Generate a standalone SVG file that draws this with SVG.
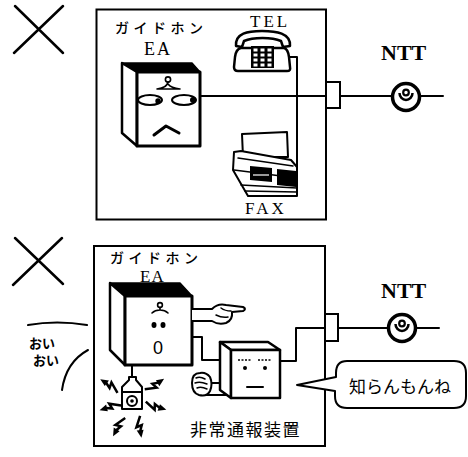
<svg xmlns="http://www.w3.org/2000/svg" xmlns:xlink="http://www.w3.org/1999/xlink" width="468" height="457" viewBox="0 0 468 457">
  <style>
    .ln { fill: none; stroke: #000; stroke-width: 2; stroke-linecap: round; stroke-linejoin: round; }
    .wf { fill: #fff; stroke: #000; stroke-width: 2.5; stroke-linejoin: round; }
    .blk { fill: #000; stroke: #000; stroke-width: 1.5; stroke-linejoin: round; }
    .frame { fill: none; stroke: #000; stroke-width: 2; }
    .serif { font-family: "Liberation Serif", "DejaVu Serif", serif; fill: #000; }
    .jp { font-family: "Noto Sans CJK JP", "Noto Sans", sans-serif; fill: #000; }
    .kana { font-family: "Noto Sans CJK JP", sans-serif; font-size: 14px; letter-spacing: 4.5px; font-weight: 500; }
    .ntt { font-family: "Liberation Serif", serif; font-weight: bold; font-size: 22px; }
  </style>
  <defs>
    <!-- small lightning bolt, drawn along +y with its head at the bottom -->
    <g id="bolt">
      <path d="M1.5,-8 L-3,0.5 L1.5,-0.5 L-0.5,4" fill="none" stroke="#000" stroke-width="2" stroke-linejoin="miter"/>
      <path d="M-3.2,3 L-0.5,9.5 L2.3,3.5 Z" fill="#000"/>
    </g>
    <!-- line socket symbol -->
    <g id="socket">
      <circle cx="0" cy="0" r="13.5" fill="#fff" stroke="#000" stroke-width="3.5"/>
      <path d="M-6.5,-4 A6.5,7 0 0 0 6.5,-4" fill="none" stroke="#000" stroke-width="2.5"/>
      <circle cx="0" cy="-4.5" r="2.8" fill="#fff" stroke="#000" stroke-width="2.2"/>
    </g>
  </defs>

  <!-- ===== upper scene ===== -->
  <g id="top-cross" class="ln" style="stroke-width:2.5">
    <path d="M15,6 L63,53 M63,6 L14,53"/>
  </g>
  <g id="top-frame">
    <rect class="frame" x="96.5" y="9.5" width="229.5" height="210"/>
  </g>

  <g id="top-connectors" class="ln">
    <path d="M200,96 H326"/>
    <path d="M290,57 H297 V176"/>
    <path d="M340,96 H392 M420,96 H443"/>
  </g>

  <g id="top-guidephone">
    <text class="jp kana" x="115" y="33">ガイドホン</text>
    <text class="serif" x="144" y="55" font-size="18" letter-spacing="2">EA</text>
    <polygon class="blk" points="122,63 192,63 200,72 137,72"/>
    <polygon class="wf" points="122,63 137,72 137,146 122,133"/>
    <rect class="wf" x="137" y="72" width="63" height="74" style="stroke-width:3"/>
    <circle cx="168" cy="79.5" r="2.6" fill="none" stroke="#000" stroke-width="1.6"/>
    <path class="ln" style="stroke-width:1.6" d="M168,82 Q167,88 157,89 M157,89 H180 M168,84 Q171,88 180,89"/>
    <ellipse cx="150" cy="100" rx="12" ry="5" fill="#fff" stroke="#000" stroke-width="2"/>
    <ellipse cx="184" cy="100" rx="12" ry="5" fill="#fff" stroke="#000" stroke-width="2"/>
    <circle cx="158" cy="101" r="2.7"/>
    <circle cx="193" cy="100" r="3"/>
    <path class="ln" style="stroke-width:3" d="M154,135 L166,126 L179,133"/>
  </g>

  <g id="top-tel">
    <text class="serif" x="250" y="27" font-size="17" letter-spacing="3">TEL</text>
    <path class="wf" d="M236,46 C235,33 248,31 262,31 C276,31 291,33 290,46 L283,47 L281,41 C272,37 253,37 244,41 L242,47 Z"/>
    <path class="wf" d="M241,48 Q236,49 235,57 L234,67 Q234,71 238,71 L287,71 Q291,71 290,67 L289,57 Q288,49 284,48 Z"/>
    <rect x="251" y="46" width="23" height="22" fill="#000"/>
    <g fill="#fff">
      <rect x="253.5" y="48.5" width="4" height="3"/><rect x="260.5" y="48.5" width="4" height="3"/><rect x="267.5" y="48.5" width="4" height="3"/>
      <rect x="253.5" y="53.5" width="4" height="3"/><rect x="260.5" y="53.5" width="4" height="3"/><rect x="267.5" y="53.5" width="4" height="3"/>
      <rect x="253.5" y="58.5" width="4" height="3"/><rect x="260.5" y="58.5" width="4" height="3"/><rect x="267.5" y="58.5" width="4" height="3"/>
      <rect x="253.5" y="63.5" width="4" height="3"/><rect x="260.5" y="63.5" width="4" height="3"/><rect x="267.5" y="63.5" width="4" height="3"/>
    </g>
  </g>

  <g id="top-fax">
    <polygon class="wf" style="stroke-width:2" points="242,134 287,132 288,157 243,157"/>
    <path class="wf" style="stroke-width:2" d="M234,152 L241,151 L291,160 L297,167 L297,196 L248,196 L233,170 Z"/>
    <path class="ln" style="stroke-width:1.5" d="M238,158 L293,166 M234,170 L297,178 M241,185 L297,188 M245,191 L297,192"/>
    <polygon points="250,166 272,168 272,182 250,180" fill="#000"/>
    <path d="M253,175 H269" stroke="#fff" stroke-width="1.2"/>
    <polygon points="277,169 296,171 296,187 277,185" fill="#000"/>
    <text class="serif" x="245" y="214" font-size="17" letter-spacing="3">FAX</text>
  </g>

  <g id="top-jack">
    <rect x="326" y="82" width="14" height="26" fill="#fff" stroke="#000" stroke-width="2"/>
  </g>
  <g id="top-ntt">
    <text class="serif ntt" x="381" y="60">NTT</text>
    <use xlink:href="#socket" x="406" y="97"/>
  </g>

  <!-- ===== lower scene ===== -->
  <g id="bottom-cross" class="ln" style="stroke-width:2.5">
    <path d="M15,238 L63,284 M62,238 L13,285"/>
  </g>
  <g id="bottom-frame">
    <rect class="frame" x="94" y="246" width="231" height="200"/>
  </g>

  <g id="bottom-connectors" class="ln">
    <path d="M192,337 H202 V360 H222"/>
    <path d="M280,361 H296 V328 H325"/>
    <path d="M338,328 H388 M416,328 H439"/>
    <path d="M132,365 V378"/>
  </g>

  <g id="bottom-guidephone">
    <text class="jp kana" x="110" y="263">ガイドホン</text>
    <text class="serif" x="140" y="282" font-size="17" letter-spacing="1">EA</text>
    <polygon class="blk" points="110,283 180,283 192,296 125,296"/>
    <polygon class="wf" points="110,283 125,296 125,365 110,350"/>
    <rect class="wf" x="125" y="296" width="67" height="69" style="stroke-width:3"/>
    <circle cx="160" cy="305" r="2.4" fill="none" stroke="#000" stroke-width="1.6"/>
    <path class="ln" style="stroke-width:1.6" d="M160,307.5 V310 M152,313 Q155,310 160,310 Q165,310 168,313"/>
    <ellipse cx="154" cy="325" rx="2.5" ry="3"/>
    <ellipse cx="163" cy="325" rx="2.5" ry="3"/>
    <text x="158" y="354" font-family="Liberation Sans, Arial, sans-serif" font-size="18" text-anchor="middle">0</text>
    <!-- pointing hand -->
    <path class="wf" style="stroke-width:2" d="M192,309 H212 Q218,303 226,305 L243,307 Q247,309 243,311 L232,312 Q233,320 226,323 Q218,325 212,321 H192"/>
    <path class="ln" style="stroke-width:1.5" d="M221,308 Q225,311 231,311 M216,315 Q222,318 228,317"/>
  </g>

  <g id="bottom-alarm">
    <path class="wf" style="stroke-width:2" d="M129,377 L136,377 L136,380 L142,387 L142,409 L122,409 L122,387 L129,380 Z"/>
    <path class="ln" d="M122,392 H142"/>
    <circle cx="132" cy="401" r="5" fill="#fff" stroke="#000" stroke-width="2"/>
    <circle cx="132" cy="401" r="1.8"/>
    <use xlink:href="#bolt" transform="translate(110,386) rotate(122) scale(1.25)"/>
    <use xlink:href="#bolt" transform="translate(154,385) rotate(235) scale(1.25)"/>
    <use xlink:href="#bolt" transform="translate(111,407) rotate(71) scale(1.25)"/>
    <use xlink:href="#bolt" transform="translate(155,406) rotate(-75) scale(1.25)"/>
    <use xlink:href="#bolt" transform="translate(119,426) rotate(27) scale(1.25)"/>
    <use xlink:href="#bolt" transform="translate(140,426) rotate(-10) scale(1.25)"/>
  </g>

  <g id="bottom-reporter">
    <!-- fist reaching out of the side -->
    <path class="ln" d="M209,383 H226 M203,395 H226"/>
    <path class="wf" style="stroke-width:2" d="M200,373 Q192,373 192,383 Q192,393 199,395 Q207,397 210,391 Q213,384 210,377 Q206,372 200,373 Z"/>
    <path class="ln" style="stroke-width:1.5" d="M196,378 Q200,376 205,379 M195,383 Q200,381 207,384 M197,388 Q201,386 207,389"/>
    <polygon class="wf" points="220,342 268,342 280,350 231,350"/>
    <polygon class="wf" points="220,342 231,350 231,398 220,390"/>
    <rect class="wf" x="231" y="350" width="49" height="48"/>
    <path d="M238,360 H252 M258,360 H272" stroke="#000" stroke-width="1.3" stroke-dasharray="2 1.5"/>
    <circle cx="245" cy="368" r="2"/>
    <circle cx="265" cy="368" r="2"/>
    <path class="ln" d="M247,387 H263"/>
    <text class="jp" x="190" y="436" font-size="17" letter-spacing="1.5">非常通報装置</text>
  </g>

  <g id="bottom-jack">
    <rect x="325" y="314" width="13" height="27" fill="#fff" stroke="#000" stroke-width="2"/>
  </g>
  <g id="bottom-ntt">
    <text class="serif ntt" x="381" y="298">NTT</text>
    <use xlink:href="#socket" x="402" y="328"/>
  </g>

  <g id="bottom-bubble">
    <path fill="#fff" stroke="#000" stroke-width="2" stroke-linejoin="round" d="M347,361 H454 Q466,361 466,373 V396 Q466,408 454,408 H347 Q335,408 335,396 V391 L297,385 L336,377 V373 Q336,361 347,361 Z"/>
    <text class="jp" x="349" y="393" font-size="17">知らんもんね</text>
  </g>

  <g id="bottom-voice">
    <path class="ln" d="M28,325 Q57,320 87,325"/>
    <path class="ln" d="M62,390 Q66,362 88,350"/>
    <text class="jp" x="29" y="348" font-size="13" font-weight="bold">おい</text>
    <text class="jp" x="33" y="365" font-size="13" font-weight="bold">おい</text>
  </g>
</svg>
